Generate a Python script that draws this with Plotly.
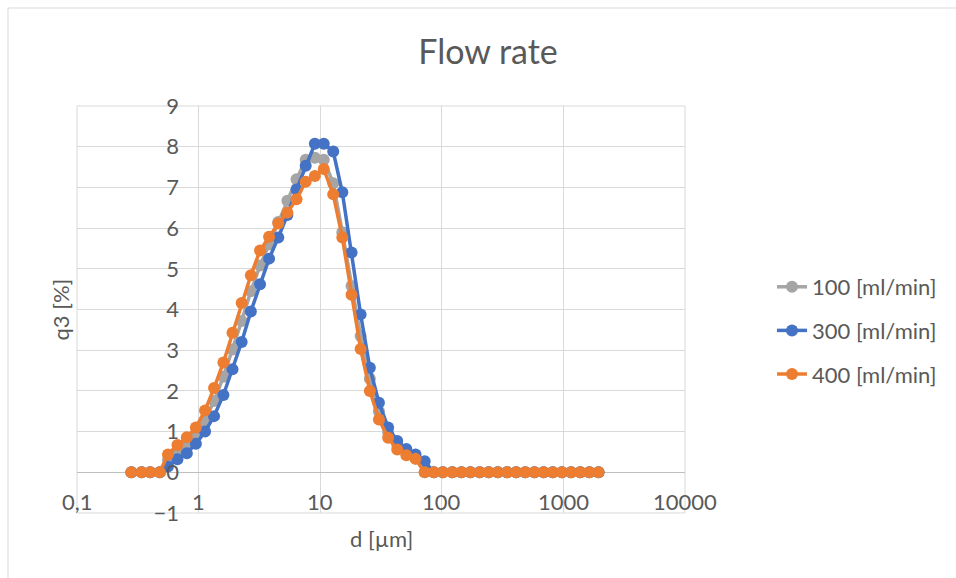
import math
import plotly.graph_objects as go

# Particle size classes d [µm]
d_um = [0.28, 0.34, 0.40, 0.48, 0.56, 0.67, 0.80, 0.95, 1.13, 1.34, 1.60, 1.90, 2.26,
        2.69, 3.20, 3.80, 4.52, 5.37, 6.39, 7.60, 9.04, 10.7, 12.8, 15.2, 18.1, 21.5,
        25.6, 30.4, 36.2, 43.0, 51.1, 60.8, 72.3, 86.0, 102, 122, 145, 172, 205, 243,
        289, 344, 409, 486, 578, 688, 818, 973, 1157, 1376, 1636, 1946]

# q3 [%] for each flow rate
q3_100 = [0, 0, 0, 0, 0.30, 0.52, 0.68, 0.92, 1.28, 1.75, 2.35, 3.02, 3.72, 4.45, 5.08,
          5.60, 6.15, 6.67, 7.20, 7.68, 7.73, 7.68, 7.10, 5.90, 4.58, 3.35, 2.30, 1.50,
          0.98, 0.68, 0.50, 0.34] + [0] * 20
q3_300 = [0, 0, 0, 0, 0.14, 0.32, 0.47, 0.70, 1.00, 1.38, 1.90, 2.53, 3.20, 3.95, 4.62,
          5.25, 5.77, 6.32, 6.95, 7.53, 8.07, 8.07, 7.88, 6.88, 5.40, 3.88, 2.57, 1.71,
          1.10, 0.77, 0.57, 0.44, 0.27] + [0] * 19
q3_400 = [0, 0, 0, 0, 0.44, 0.67, 0.86, 1.10, 1.52, 2.07, 2.70, 3.43, 4.16, 4.84, 5.45,
          5.79, 6.11, 6.38, 6.71, 7.14, 7.28, 7.45, 6.83, 5.77, 4.36, 3.03, 2.00, 1.30,
          0.85, 0.56, 0.42, 0.33] + [0] * 20

series_names = ["100 [ml/min]", "300 [ml/min]", "400 [ml/min]"]
series_colors = ["#A5A5A5", "#4472C4", "#ED7D31"]

x_tickvals = [0.1, 1, 10, 100, 1000, 10000]
x_ticktext = ["0,1", "1", "10", "100", "1000", "10000"]

FONT = "Lato, 'Open Sans', sans-serif"
TXT = "#595959"
GRID = "#d9d9d9"
FS = 22

fig = go.Figure()
for i, (name, ys, col) in enumerate(zip(series_names, [q3_100, q3_300, q3_400], series_colors)):
    fig.add_trace(go.Scatter(
        x=d_um, y=ys, name=name, mode="lines+markers",
        line=dict(color=col, width=3.5),
        marker=dict(color=col, size=12),
        legendgroup=f"g{i}",
    ))

# plot area geometry in pixels
W, H = 956, 578
L, R, T, B = 77, 685, 106, 513


def px_x(p):
    return (p - L) / (R - L)


def px_y(p):
    return (B - p) / (B - T)


# axis labels sit just above the bottom edge of the plot area
x_label_y = -0.72
annotations = [
    dict(text=t, x=math.log10(v), y=x_label_y, xref="x", yref="y",
         showarrow=False, xanchor="center", yanchor="middle",
         font=dict(family=FONT, size=FS, color=TXT))
    for v, t in zip(x_tickvals, x_ticktext)
]
annotations += [
    dict(text="q3 [%]", x=px_x(60), y=0.5, xref="paper", yref="paper",
         textangle=-90, showarrow=False, xanchor="center", yanchor="middle",
         font=dict(family=FONT, size=FS, color=TXT)),
    dict(text="d [µm]", x=0.5, y=px_y(538), xref="paper", yref="paper",
         showarrow=False, xanchor="center", yanchor="middle",
         font=dict(family=FONT, size=FS, color=TXT)),
]

fig.update_layout(
    width=W, height=H,
    margin=dict(l=L, r=W - R, t=T, b=H - B),
    paper_bgcolor="white", plot_bgcolor="white",
    font=dict(family=FONT, color=TXT, size=FS),
    title=dict(text="Flow rate", x=488 / W, xref="container", xanchor="center",
               y=1 - 52 / H, yref="container", yanchor="middle",
               font=dict(family=FONT, size=34, color=TXT)),
    showlegend=True,
    legend=dict(x=px_x(772), y=px_y(266), xanchor="left", yanchor="top",
                font=dict(family=FONT, size=FS, color=TXT),
                traceorder="grouped", tracegroupgap=12,
                bgcolor="rgba(0,0,0,0)"),
    xaxis=dict(type="log", range=[-1, 4], tickvals=x_tickvals,
               showgrid=True, gridcolor=GRID, gridwidth=1, zeroline=False,
               showline=False, ticks="", showticklabels=False),
    yaxis=dict(range=[-1, 9], dtick=1, tick0=0, showgrid=True, gridcolor=GRID,
               gridwidth=1, zeroline=True, zerolinecolor="#bfbfbf", zerolinewidth=1,
               showline=False, ticks="", anchor="free", position=px_x(179),
               tickfont=dict(family=FONT, size=FS, color=TXT)),
    annotations=annotations,
    shapes=[
        # outline of the plot area
        dict(type="rect", xref="paper", yref="paper", x0=0, y0=0, x1=1, y1=1,
             line=dict(color=GRID, width=1), layer="below"),
        # chart-area border
        dict(type="path", xref="paper", yref="paper",
             path=f"M {px_x(8)},{px_y(590)} L {px_x(8)},{px_y(8)} L {px_x(960)},{px_y(8)}",
             line=dict(color=GRID, width=1), layer="below"),
    ],
)

fig.write_html("out.html")
